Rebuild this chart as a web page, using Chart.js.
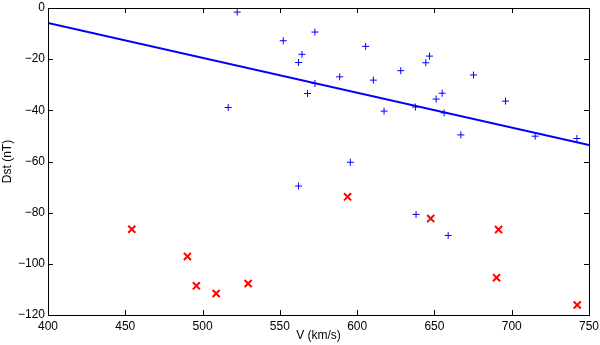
<!DOCTYPE html>
<html>
<head>
<meta charset="utf-8">
<script src="https://cdn.jsdelivr.net/npm/chart.js@4"></script>
<style>
  html, body { margin: 0; padding: 0; background: #fff; }
  #wrap { width: 600px; height: 345px; position: relative; }
  #overlay { position: absolute; left: 0; top: 0; width: 600px; height: 345px; pointer-events: none; }
  #overlay div { position: absolute; background: #000; }
  #msg { position: absolute; left: 60px; top: 140px; color: #c00; font: 11px sans-serif; }
</style>
</head>
<body>
<div id="wrap"><canvas id="chart"></canvas><div id="overlay"></div><div id="msg"></div></div>
<script>
window.onerror = function (m) {
    document.getElementById('msg').textContent += ' ERR: ' + m;
};

// quiet storms (+)
var quietV = [522.4, 516.6, 552.2, 562.1, 564.3, 572.7, 567.9, 572.7, 588.7, 605.5,
    610.5, 617.4, 628.2, 637.7, 644.4, 646.8, 651.1, 655.0, 656.3, 667.1,
    675.3, 696.0, 715.2, 742.2, 595.6, 562.1, 638.1, 658.9];
var quietDst = [-1.6, -38.9, -12.8, -21.3, -18.1, -9.4, -33.4, -29.5, -26.9, -15.0,
    -28.2, -40.3, -24.5, -38.7, -21.4, -18.8, -35.6, -33.3, -41.0, -49.6,
    -26.2, -36.4, -50.1, -51.0, -60.3, -69.6, -80.7, -88.9];

// strong storms (x)
var stormV = [454.2, 490.2, 496.0, 508.8, 529.5, 593.8, 647.6, 691.5, 690.2, 742.4];
var stormDst = [-86.5, -97.1, -108.6, -111.6, -107.7, -73.8, -82.3, -86.6, -105.4, -116.1];

// linear fit endpoints
var fitV = [400, 750];
var fitDst = [-5.9, -53.6];

var xMin = 400, xMax = 750, xStep = 50;
var yMin = -120, yMax = 0, yStep = 20;
var tickLen = 5;

function pairs(xs, ys) {
    var out = [];
    for (var i = 0; i < xs.length; i++) {
        out.push({x: xs[i], y: ys[i]});
    }
    return out;
}

function minus(v) {
    return String(v).replace('-', '\u2212');
}

function frameRects(chart) {
    var a = chart.chartArea;
    var l = Math.round(a.left), r = Math.round(a.right);
    var t = Math.round(a.top), b = Math.round(a.bottom);
    var rects = [
        [l, t, r - l + 1, 1],
        [l, b, r - l + 1, 1],
        [l, t, 1, b - t + 1],
        [r, t, 1, b - t + 1]
    ];
    try {
        var xs = chart.scales.x, ys = chart.scales.y;
        for (var i = 0; i < xs.ticks.length; i++) {
            var px = Math.round(xs.getPixelForValue(xs.ticks[i].value));
            rects.push([px, b - tickLen, 1, tickLen]);
            rects.push([px, t, 1, tickLen]);
        }
        for (var j = 0; j < ys.ticks.length; j++) {
            var py = Math.round(ys.getPixelForValue(ys.ticks[j].value));
            rects.push([l, py, tickLen, 1]);
            rects.push([r - tickLen, py, tickLen, 1]);
        }
    } catch (e) {
        document.getElementById('msg').textContent += ' ticks: ' + e;
    }
    return rects;
}

function paint(chart) {
    var c = chart.ctx;
    c.save();
    c.globalAlpha = 1;
    c.globalCompositeOperation = 'source-over';
    c.setTransform(1, 0, 0, 1, 0, 0);
    c.fillStyle = '#000';
    var rects = frameRects(chart);
    for (var i = 0; i < rects.length; i++) {
        c.fillRect(rects[i][0], rects[i][1], rects[i][2], rects[i][3]);
    }
    c.restore();
}

function buildOverlay(chart) {
    try {
        var ov = document.getElementById('overlay');
        ov.innerHTML = '';
        var rects = frameRects(chart);
        for (var i = 0; i < rects.length; i++) {
            var d = document.createElement('div');
            d.style.left = rects[i][0] + 'px';
            d.style.top = rects[i][1] + 'px';
            d.style.width = rects[i][2] + 'px';
            d.style.height = rects[i][3] + 'px';
            ov.appendChild(d);
        }
    } catch (e) {
        document.getElementById('msg').textContent += ' overlay: ' + e;
    }
}

var boxPlugin = {
    id: 'boxFrame',
    afterDatasetsDraw: function (chart) {
        try { paint(chart); } catch (e) {
            document.getElementById('msg').textContent += ' ads: ' + e;
        }
    },
    afterDraw: function (chart) {
        try { paint(chart); } catch (e) {
            document.getElementById('msg').textContent += ' ad: ' + e;
        }
    }
};

var font = {family: '"Liberation Sans", Arial, sans-serif', size: 12};

var config = {
    type: 'scatter',
    data: {
        datasets: [{
            type: 'line',
            label: 'fit',
            data: pairs(fitV, fitDst),
            borderColor: '#0000ff',
            borderWidth: 2,
            pointRadius: 0,
            fill: false
        }, {
            label: 'quiet',
            data: pairs(quietV, quietDst),
            pointStyle: 'cross',
            pointRadius: 3.5,
            borderColor: '#0000ff',
            backgroundColor: '#0000ff',
            borderWidth: 1
        }, {
            label: 'storm',
            data: pairs(stormV, stormDst),
            pointStyle: 'crossRot',
            pointRadius: 5,
            borderColor: '#ff0000',
            backgroundColor: '#ff0000',
            borderWidth: 2
        }]
    },
    options: {
        responsive: true,
        maintainAspectRatio: false,
        animation: false,
        layout: {padding: {top: 8, right: 11, left: 0, bottom: 0}},
        plugins: {
            legend: {display: false},
            tooltip: {enabled: false}
        },
        scales: {
            x: {
                type: 'linear',
                min: xMin,
                max: xMax,
                ticks: {stepSize: xStep, color: '#000', font: font, padding: 4, maxRotation: 0},
                grid: {display: false, drawTicks: false},
                border: {display: true, color: '#000', width: 1},
                title: {display: true, text: 'V (km/s)', color: '#000', font: font, padding: {top: 0, bottom: 2}},
                afterFit: function (s) {
                    s.height = 30;
                    s.paddingLeft = 0;
                    s.paddingRight = 0;
                }
            },
            y: {
                min: yMin,
                max: yMax,
                ticks: {stepSize: yStep, color: '#000', font: font, padding: 3,
                    callback: function (v) { return minus(v); }},
                grid: {display: false, drawTicks: false},
                border: {display: true, color: '#000', width: 1},
                title: {display: true, text: 'Dst (nT)', color: '#000', font: font, padding: {top: 0, bottom: 2}},
                afterFit: function (s) {
                    s.width = 48;
                    s.paddingTop = 0;
                    s.paddingBottom = 0;
                }
            }
        }
    },
    plugins: [boxPlugin]
};

var ctx = document.getElementById('chart').getContext('2d');
var chart = new Chart(ctx, config);
buildOverlay(chart);
setTimeout(function () { buildOverlay(chart); }, 50);
</script>
</body>
</html>
